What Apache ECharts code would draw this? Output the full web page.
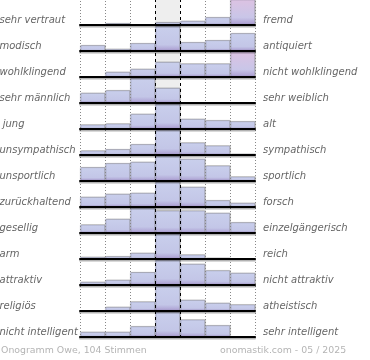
<!DOCTYPE html>
<html><head><meta charset="utf-8">
<script src="https://cdn.jsdelivr.net/npm/echarts@6/dist/echarts.min.js"></script>
<style>html,body{margin:0;padding:0;background:#fff}#c{width:370px;height:360px}</style>
</head><body><div id="c"></div>
<script>
// ---- data ----
const bins = ['1', '2', '3', '4', '5', '6', '7'];
const leftLabels = ['sehr vertraut', 'modisch', 'wohlklingend', 'sehr männlich', ' jung', 'unsympathisch',
  'unsportlich', 'zurückhaltend', 'gesellig', 'arm', 'attraktiv', 'religiös', 'nicht intelligent'];
const rightLabels = ['fremd', 'antiquiert', 'nicht wohlklingend', 'sehr weiblich', 'alt', 'sympathisch',
  'sportlich', 'forsch', 'einzelgängerisch', 'reich', 'nicht attraktiv', 'atheistisch', 'sehr intelligent'];
// bar heights per row (scale top = 25; values above it are clipped and shown pink)
const heights = [
  [0, 1.7, 0, 2.7, 4, 7.7, 27],
  [5.7, 2, 7.7, 25, 8.7, 10.7, 17.7],
  [0, 5, 8, 15, 13.3, 13.3, 27],
  [10, 12.6, 25, 15, 0, 0, 0],
  [4.3, 5.3, 15, 25, 10, 8.6, 7.6],
  [4.3, 5.7, 10.7, 25, 12.3, 9.3, 1],
  [13.7, 17.7, 19, 25, 22, 15.3, 4.3],
  [10, 13, 14, 25, 20, 6.6, 4],
  [8.3, 14, 25, 22.3, 22.3, 20, 10.6],
  [2, 2.6, 6, 25, 4.3, 1, 0],
  [3, 5, 12.8, 25, 21, 14.5, 12],
  [0, 4, 9.3, 25, 11, 8, 6.4],
  [5, 5, 10.6, 25, 17.3, 11.6, 0]
];
const SCALE_MAX = 25;
const footerLeft = 'Onogramm Owe, 104 Stimmen';
const footerRight = 'onomastik.com - 05 / 2025';

// ---- layout / style ----
const PLOT_LEFT = 80, PLOT_W = 175, ROW_PITCH = 26, ROW_H = 25;
const n = heights.length;
const labelFont = { fontFamily: 'DejaVu Sans', fontSize: 10, fontStyle: 'italic', color: '#666' };
const footFont = { fontFamily: 'DejaVu Sans', fontSize: 9.4, fontWeight: 'normal', color: '#b4b4b4' };

const blueGrad = { type: 'linear', x: 0, y: 0, x2: 0, y2: 1, colorStops: [
  { offset: 0, color: '#c9cfec' }, { offset: 0.75, color: '#c3c6e7' }, { offset: 1, color: '#a99acf' }] };
const pinkGrad = { type: 'linear', x: 0, y: 0, x2: 0, y2: 1, colorStops: [
  { offset: 0, color: '#dcc2e2' }, { offset: 0.7, color: '#c9c6e8' }, { offset: 1, color: '#a99acf' }] };

const grid = [], xAxis = [], yAxis = [], series = [];
for (let i = 0; i < n; i++) {
  grid.push({ left: PLOT_LEFT, width: PLOT_W, top: i * ROW_PITCH, height: ROW_H, outerBoundsMode: 'none', containLabel: false });
  xAxis.push({ type: 'category', gridIndex: i, data: bins, boundaryGap: true, z: 8,
    axisLine: { show: true, lineStyle: { color: '#000', width: 2, shadowColor: 'rgba(0,0,0,0.3)', shadowOffsetY: 1.5 } },
    axisTick: { show: false }, axisLabel: { show: false }, splitLine: { show: false } });
  const li = leftLabels[i], ri = rightLabels[i];
  yAxis.push({ type: 'value', gridIndex: i, min: 0, max: SCALE_MAX, interval: 5, position: 'left',
    axisLine: { show: false }, axisTick: { show: false }, splitLine: { show: false },
    axisLabel: Object.assign({ show: true, margin: PLOT_LEFT + 0.5, align: 'left',
      formatter: v => (v === 5 ? li : '') }, labelFont) });
  yAxis.push({ type: 'value', gridIndex: i, min: 0, max: SCALE_MAX, interval: 5, position: 'right',
    axisLine: { show: false }, axisTick: { show: false }, splitLine: { show: false },
    axisLabel: Object.assign({ show: true, margin: 8, align: 'left',
      formatter: v => (v === 5 ? ri : '') }, labelFont) });
  series.push({ type: 'bar', xAxisIndex: i, yAxisIndex: 2 * i, data: heights[i], barCategoryGap: '0%',
    clip: true, z: 2, silent: true,
    itemStyle: { color: p => (p.value > SCALE_MAX ? pinkGrad : blueGrad),
      borderColor: 'rgba(120,120,140,0.45)', borderWidth: 0.7,
      shadowColor: 'rgba(0,0,0,0.25)', shadowOffsetX: 1, shadowOffsetY: -0.5, shadowBlur: 0 } });
}
// overlay grid for column guides
const og = n;
grid.push({ left: PLOT_LEFT, width: PLOT_W, top: 0, height: (n - 1) * ROW_PITCH + ROW_H + 1, outerBoundsMode: 'none', containLabel: false });
xAxis.push({ type: 'value', gridIndex: og, min: 0, max: bins.length, show: false });
yAxis.push({ type: 'value', gridIndex: og, min: 0, max: 1, show: false });
const oyi = yAxis.length - 1;
series.push({ type: 'line', xAxisIndex: og, yAxisIndex: oyi, data: [[0, 0]], showSymbol: false, silent: true, z: 0,
  lineStyle: { opacity: 0 },
  markArea: { silent: true, itemStyle: { color: '#eeeeee' }, data: [[{ xAxis: 3 }, { xAxis: 4 }]] },
  markLine: { silent: true, symbol: 'none', label: { show: false },
    lineStyle: { color: '#888', type: [1, 2], width: 1 },
    data: [0, 1, 2, 5, 6, 7].map(v => ({ xAxis: v })) } });
series.push({ type: 'line', xAxisIndex: og, yAxisIndex: oyi, data: [[0, 0]], showSymbol: false, silent: true, z: 6,
  lineStyle: { opacity: 0 },
  markLine: { silent: true, symbol: 'none', label: { show: false },
    lineStyle: { color: '#000', type: [3, 3], width: 1 },
    data: [3, 4].map(v => ({ xAxis: v })) } });

const chart = echarts.init(document.getElementById('c'), null, { renderer: 'canvas' });
chart.setOption({
  animation: false,
  backgroundColor: '#fff',
  title: [
    { text: footerLeft, left: 1, top: 346, padding: 0, textStyle: footFont },
    { text: footerRight, left: 220, top: 346, padding: 0, textStyle: footFont }
  ],
  grid, xAxis, yAxis, series
});
</script></body></html>
